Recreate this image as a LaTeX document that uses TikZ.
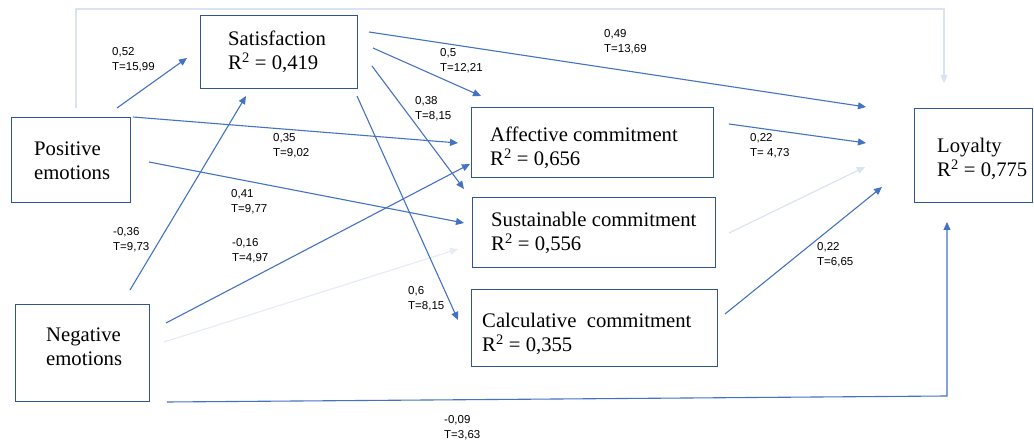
\documentclass[tikz,border=0pt]{standalone}
\usepackage{fontspec}
\setmainfont{Liberation Serif}
\newfontfamily\lblfont{Liberation Sans}
\usetikzlibrary{arrows.meta}
\definecolor{arr}{HTML}{4472C4}
\definecolor{faint}{HTML}{DAE3F3}
\definecolor{fainter}{HTML}{E6ECF6}
\definecolor{boxc}{HTML}{2F5597}
\begin{document}
\begin{tikzpicture}[x=1pt,y=-1pt,
  box/.style={draw=boxc, line width=1.2pt, anchor=north west, inner sep=0pt},
  btext/.style={anchor=base west, inner sep=0pt, align=left, font=\fontsize{20.7}{24.5}\selectfont},
  lbl/.style={anchor=north west, inner sep=0pt, align=left, font=\lblfont\fontsize{11.5}{15}\selectfont},
  conn/.style={draw=arr, line width=1.1pt, -{Triangle[length=8pt,width=7pt]}},
  faintconn/.style={conn, draw=faint},
  fainterconn/.style={conn, draw=fainter},
]
\useasboundingbox (0,0) rectangle (1034,443);
\fill[white] (0,0) rectangle (1034,443);

% boxes
\node[box, minimum width=157pt, minimum height=73pt] (sat) at (200,15) {};
\node[box, minimum width=119pt, minimum height=85pt] (pos) at (11,117) {};
\node[box, minimum width=134pt, minimum height=97pt] (neg) at (15,304) {};
\node[box, minimum width=242pt, minimum height=70pt] (aff) at (471,107) {};
\node[box, minimum width=243pt, minimum height=70pt] (sus) at (472,197) {};
\node[box, minimum width=246pt, minimum height=77pt] (calc) at (471,289) {};
\node[box, minimum width=118pt, minimum height=94pt] (loy) at (914,108) {};

% box texts (anchored at the baseline of the last line)
\node[btext] (satT) at (228,70) {Satisfaction\\R\textsuperscript{2} = 0,419};
\node[btext] (posT) at (34,180) {Positive\\emotions};
\node[btext] (negT) at (46,366) {Negative\\emotions};
\node[btext] (affT) at (490,166) {Affective commitment\\R\textsuperscript{2} = 0,656};
\node[btext] (susT) at (491,251) {Sustainable commitment\\R\textsuperscript{2} = 0,556};
\node[btext] (calcT) at (482,352) {Calculative\ \ commitment\\R\textsuperscript{2} = 0,355};
\node[btext] (loyT) at (937,177) {Loyalty\\R\textsuperscript{2} = 0,775};

% connector end points
\coordinate (p1a) at (117,108); \coordinate (p1b) at (187,58);
\coordinate (p2a) at (133,117); \coordinate (p2b) at (458,143);
\coordinate (p3a) at (149,162); \coordinate (p3b) at (464,223);
\coordinate (n1a) at (130,290); \coordinate (n1b) at (246,96);
\coordinate (n2a) at (166,323); \coordinate (n2b) at (470,164);
\coordinate (n3a) at (164,342); \coordinate (n3b) at (458,249);
\coordinate (n4a) at (167,402); \coordinate (n4m) at (947,396); \coordinate (n4b) at (947,222);
\coordinate (s1a) at (369,32); \coordinate (s1b) at (866,107);
\coordinate (s2a) at (373,48); \coordinate (s2b) at (481,96);
\coordinate (s3a) at (372,66); \coordinate (s3b) at (464,189);
\coordinate (s4a) at (357,96); \coordinate (s4b) at (458,320);
\coordinate (a1a) at (729,124); \coordinate (a1b) at (866,143);
\coordinate (u1a) at (729,233); \coordinate (u1b) at (865,167);
\coordinate (c1a) at (725,314); \coordinate (c1b) at (882,187);
\coordinate (t1a) at (76,108); \coordinate (t1m) at (76,9); \coordinate (t1n) at (944,9); \coordinate (t1b) at (944,83);

% connectors
\draw[faintconn] (t1a) -- (t1m) -- (t1n) -- (t1b);
\draw[fainterconn] (n3a) -- (n3b);
\draw[faintconn] (u1a) -- (u1b);
\draw[conn] (p1a) -- (p1b);
\draw[conn] (p2a) -- (p2b);
\draw[conn] (p3a) -- (p3b);
\draw[conn] (n1a) -- (n1b);
\draw[conn] (n2a) -- (n2b);
\draw[conn] (n4a) -- (n4m) -- (n4b);
\draw[conn] (s1a) -- (s1b);
\draw[conn] (s2a) -- (s2b);
\draw[conn] (s3a) -- (s3b);
\draw[conn] (s4a) -- (s4b);
\draw[conn] (a1a) -- (a1b);
\draw[conn] (c1a) -- (c1b);

% labels
\node[lbl] (l1) at (112,47.5) {0,52\\T=15,99};
\node[lbl] (l2) at (273,133) {0,35\\T=9,02};
\node[lbl] (l3) at (231,189) {0,41\\T=9,77};
\node[lbl] (l4) at (113,227) {-0,36\\T=9,73};
\node[lbl] (l5) at (232,238) {-0,16\\T=4,97};
\node[lbl] (l6) at (440,48) {0,5\\T=12,21};
\node[lbl] (l7) at (415,96) {0,38\\T=8,15};
\node[lbl] (l8) at (604,29) {0,49\\T=13,69};
\node[lbl] (l9) at (750,133) {0,22\\T= 4,73};
\node[lbl] (l10) at (817,242) {0,22\\T=6,65};
\node[lbl] (l11) at (408,286) {0,6\\T=8,15};
\node[lbl] (l12) at (444,415) {-0,09\\T=3,63};
\end{tikzpicture}
\end{document}
